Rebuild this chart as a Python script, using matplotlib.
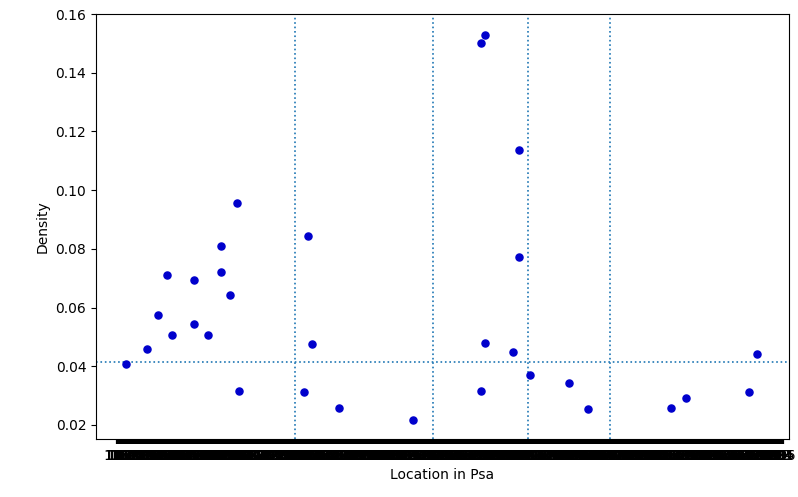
import matplotlib
matplotlib.use("Agg")
import matplotlib.pyplot as plt

# Posiciones (location in Psa) y densidades
location = [22, 37, 45, 51, 55, 71, 71, 81, 90, 90, 97, 102, 103,
            150, 153, 156, 175, 229,
            278, 278, 281, 281, 301, 305, 305, 313,
            341, 355, 415, 426, 471, 477]
density = [0.0409, 0.0460, 0.0574, 0.0712, 0.0507, 0.0694, 0.0545, 0.0507,
           0.0810, 0.0722, 0.0643, 0.0955, 0.0316,
           0.0311, 0.0844, 0.0475, 0.0259, 0.0217,
           0.1500, 0.0316, 0.1528, 0.0479, 0.0449, 0.1138, 0.0773, 0.0370,
           0.0343, 0.0253, 0.0259, 0.0292, 0.0311, 0.0441]

# Líneas de referencia
mean_density = 0.0414
boundaries = [143.5, 243, 312, 371]

# Marcas del eje x (una por posición)
tick_pos = list(range(15, 497))
tick_labels = [str(p + 100) for p in tick_pos]

fig = plt.figure(figsize=(7.98, 4.97), dpi=100)
ax = fig.add_axes([0.1203, 0.1167, 0.8684, 0.8551])

ax.scatter(location, density, s=26, color='#0000cc', zorder=3)
ax.axhline(mean_density, linestyle=':', linewidth=1.2, color='#1f77b4')
for b in boundaries:
    ax.axvline(b, linestyle=':', linewidth=1.2, color='#1f77b4')

ax.set_xlim(0, 500)
ax.set_ylim(0.0152, 0.16)
ax.set_xticks(tick_pos)
ax.set_xticklabels(tick_labels, fontsize=10)
ax.set_yticks([0.02, 0.04, 0.06, 0.08, 0.10, 0.12, 0.14, 0.16])
ax.tick_params(labelsize=10)
ax.tick_params(axis='x', width=1.6)

ax.set_xlabel('Location in Psa', fontsize=10)
ax.set_ylabel('Density', fontsize=10)

fig.savefig('out.png', dpi=100)
